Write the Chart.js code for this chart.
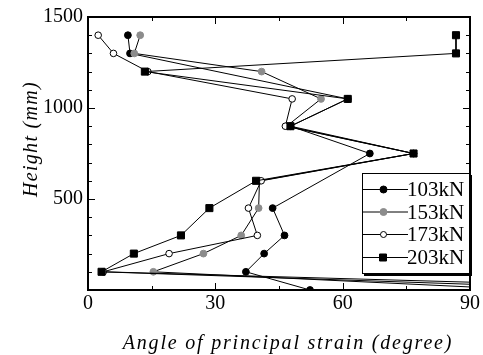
<!DOCTYPE html>
<html>
<head>
<meta charset="utf-8">
<script src="https://cdn.jsdelivr.net/npm/chart.js@4"></script>
<style>
  html, body { margin: 0; padding: 0; background: #fff; }
  #wrap { width: 483px; height: 355px; }
</style>
</head>
<body>
<div id="wrap"><canvas id="strainChart"></canvas></div>
<script>
// heights of the gauges (mm)
const heights = [1400, 1300, 1200, 1050, 900, 750, 600, 450, 300, 200, 100, 0];

// angle of principal strain (degree) per load step, null = no reading
const angle103 = [9.4, 9.9, null, 61.2, 47.7, 66.4, null, 43.5, 46.3, 41.5, 37.2, 52.3];
const angle153 = [12.3, 10.9, 40.9, 54.9, 46.8, 76.7, 40.4, 40.2, 36.1, 27.2, 15.4, 105];
const angle173 = [2.4, 6.0, 14.1, 48.1, 46.5, 76.7, 40.8, 37.8, 39.9, 19.1, 3.6, 155];
const angle203 = [86.7, 86.7, 13.4, 61.2, 47.7, 76.7, 39.6, 28.6, 21.9, 10.8, 3.2, 130];

const seriesLabels = ['103kN', '153kN', '173kN', '203kN'];
const xTicks = [0, 30, 60, 90];
const yTicks = [500, 1000, 1500];

const xTitle = 'Angle of principal strain (degree)';
const yTitle = 'Height (mm)';

function toPoints(angles) {
    const pts = [];
    angles.forEach((a, i) => {
        if (a !== null) pts.push({ x: a, y: heights[i] });
    });
    return pts;
}

const serif = "'Liberation Serif', 'Times New Roman', serif";

const styles = [
    { pointStyle: 'circle', radius: 3.4, bg: '#000', border: '#000' },
    { pointStyle: 'circle', radius: 3.4, bg: '#8c8c8c', border: '#8c8c8c' },
    { pointStyle: 'circle', radius: 3.3, bg: '#fff', border: '#000' },
    { pointStyle: 'rect', radius: 5, bg: '#000', border: '#000' }
];

const allAngles = [angle103, angle153, angle173, angle203];

const datasets = allAngles.map((angles, i) => ({
    label: seriesLabels[i],
    data: toPoints(angles),
    borderColor: '#000',
    borderWidth: 1,
    pointStyle: styles[i].pointStyle,
    pointRadius: styles[i].radius,
    pointBackgroundColor: styles[i].bg,
    pointBorderColor: styles[i].border,
    pointBorderWidth: 1,
    tension: 0,
    fill: false,
    order: 4 - i
}));

// frame, inward ticks, axis titles and the boxed legend
const framePlugin = {
    id: 'frame',
    afterDatasetsDraw(chart) {
        const { ctx, chartArea: a, scales } = chart;
        const xs = scales.x, ys = scales.y;
        ctx.save();
        ctx.strokeStyle = '#000';
        ctx.lineWidth = 1;
        ctx.beginPath();
        for (let v = 0; v <= 90; v += 15) {
            const px = Math.round(xs.getPixelForValue(v)) + 0.5;
            const len = v % 30 === 0 ? 7 : 4;
            ctx.moveTo(px, a.bottom); ctx.lineTo(px, a.bottom - len);
            ctx.moveTo(px, a.top); ctx.lineTo(px, a.top + len);
        }
        for (let v = 0; v <= 1500; v += 100) {
            const py = Math.round(ys.getPixelForValue(v)) + 0.5;
            const len = v % 500 === 0 ? 7 : 4;
            ctx.moveTo(a.left, py); ctx.lineTo(a.left + len, py);
            ctx.moveTo(a.right, py); ctx.lineTo(a.right - len, py);
        }
        ctx.stroke();
        ctx.lineWidth = 2;
        ctx.strokeRect(a.left, a.top, a.right - a.left, a.bottom - a.top);
        ctx.restore();
    },
    afterDraw(chart) {
        const { ctx, chartArea: a } = chart;
        ctx.save();
        ctx.fillStyle = '#000';
        ctx.font = 'italic 20px ' + serif;
        ctx.letterSpacing = '1.8px';
        ctx.textAlign = 'center';
        ctx.textBaseline = 'alphabetic';
        ctx.fillText(xTitle, 288, 349);
        ctx.letterSpacing = '1.3px';
        ctx.translate(37, 139);
        ctx.rotate(-Math.PI / 2);
        ctx.fillText(yTitle, 0, 0);
        ctx.restore();

        // legend box
        const lx = 362, ly = 173, lw = 108, lh = 100;
        ctx.save();
        ctx.fillStyle = '#000';
        ctx.fillRect(lx + 2, ly + 2, lw, lh + 1);
        ctx.fillStyle = '#fff';
        ctx.fillRect(lx, ly, lw, lh);
        ctx.strokeStyle = '#000';
        ctx.lineWidth = 1;
        ctx.strokeRect(lx + 0.5, ly + 0.5, lw, lh);
        ctx.lineWidth = 2;
        ctx.beginPath();
        ctx.moveTo(a.right, ly); ctx.lineTo(a.right, ly + lh + 3);
        ctx.stroke();

        const rows = [189.5, 212, 234.5, 257.5];
        chart.data.datasets.forEach((ds, i) => {
            const y = rows[i];
            ctx.strokeStyle = '#000';
            ctx.lineWidth = 1;
            ctx.beginPath();
            ctx.moveTo(lx, y); ctx.lineTo(lx + 46, y);
            ctx.stroke();
            ctx.fillStyle = ds.pointBackgroundColor;
            ctx.strokeStyle = ds.pointBorderColor;
            ctx.beginPath();
            if (ds.pointStyle === 'rect') {
                ctx.rect(383 - 3.5, y - 3.5, 7, 7);
            } else {
                ctx.arc(383.5, y, i === 2 ? 3 : 3.5, 0, Math.PI * 2);
            }
            ctx.fill();
            ctx.stroke();
            ctx.fillStyle = '#000';
            ctx.font = '21px ' + serif;
            ctx.textAlign = 'left';
            ctx.textBaseline = 'middle';
            ctx.fillText(ds.label, 407, y + 1);
        });
        ctx.restore();
    }
};

new Chart(document.getElementById('strainChart'), {
    type: 'line',
    data: { datasets: datasets },
    options: {
        responsive: true,
        maintainAspectRatio: false,
        animation: false,
        layout: { padding: { top: 16, right: 13, left: 0, bottom: 0 } },
        plugins: { legend: { display: false }, tooltip: { enabled: false } },
        scales: {
            x: {
                type: 'linear',
                min: 0, max: 90,
                afterBuildTicks: s => { s.ticks = xTicks.map(v => ({ value: v })); },
                afterFit: s => { s.height = 65; },
                grid: { display: false, drawTicks: false },
                border: { display: false },
                ticks: { color: '#000', font: { family: serif, size: 20 }, padding: 2, maxRotation: 0,
                         callback: v => String(v) }
            },
            y: {
                type: 'linear',
                min: 0, max: 1500,
                afterBuildTicks: s => { s.ticks = yTicks.map(v => ({ value: v })); },
                afterFit: s => { s.width = 88; },
                grid: { display: false, drawTicks: false },
                border: { display: false },
                ticks: { color: '#000', font: { family: serif, size: 20 }, padding: 5,
                         callback: v => String(v) }
            }
        }
    },
    plugins: [framePlugin]
});
</script>
</body>
</html>
